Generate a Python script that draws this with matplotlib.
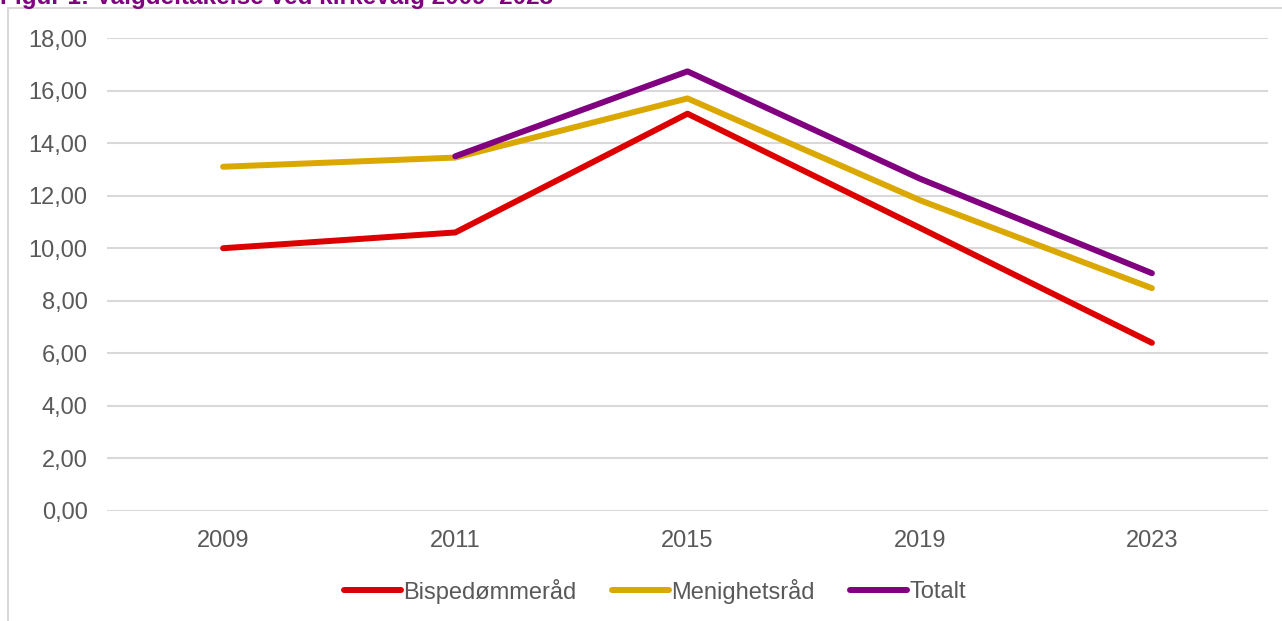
import matplotlib.pyplot as plt
from matplotlib.patches import Rectangle
from matplotlib.ticker import FuncFormatter

plt.rcParams['font.family'] = ['Liberation Sans', 'DejaVu Sans']

# data
years = ["2009", "2011", "2015", "2019", "2023"]
bispedommerad = [10.0, 10.6, 15.12, 10.78, 6.4]
menighetsrad = [13.1, 13.45, 15.7, 11.83, 8.48]
totalt = [None, 13.5, 16.73, 12.65, 9.05]

fig = plt.figure(figsize=(12.82, 6.21), dpi=100)
ax = fig.add_axes([107 / 1282, 1 - 511 / 621, (1268 - 107) / 1282, (511 - 38) / 621])

x = list(range(len(years)))
tot_x = [i for i, v in zip(x, totalt) if v is not None]
tot_y = [v for v in totalt if v is not None]

ax.plot(x, bispedommerad, color="#DD0000", lw=4.3, solid_capstyle="round", label="Bispedømmeråd")
ax.plot(x, menighetsrad, color="#DAA800", lw=4.3, solid_capstyle="round", label="Menighetsråd")
ax.plot(tot_x, tot_y, color="#800080", lw=4.3, solid_capstyle="round", label="Totalt")

ax.set_xlim(-0.5, len(years) - 0.5)
ax.set_ylim(0, 18)
ax.set_yticks(range(0, 19, 2))
ax.yaxis.set_major_formatter(FuncFormatter(lambda v, p: f"{v:.2f}".replace(".", ",")))
ax.set_xticks(x)
ax.set_xticklabels(years)
ax.grid(axis="y", color="#D9D9D9", lw=1.5)
ax.set_axisbelow(True)
for s in ax.spines.values():
    s.set_visible(False)
ax.tick_params(length=0, labelsize=17, colors="#595959")
ax.tick_params(axis="y", pad=14)
ax.tick_params(axis="x", pad=14)

leg = fig.legend(loc="center", bbox_to_anchor=(655 / 1282, 1 - 591 / 621), ncol=3, frameon=False,
                 fontsize=17, handlelength=2.4, handletextpad=0.1, columnspacing=1.5)
for t in leg.get_texts():
    t.set_color("#595959")

# chart frame (partly outside the crop)
fig.patches.append(Rectangle((8 / 1282, -0.1), 1.2, 1 - 8 / 621 + 0.1, transform=fig.transFigure,
                             fill=False, edgecolor="#D9D9D9", lw=1.5))

fig.text(0, 1 - 4 / 621, "Figur 1: Valgdeltakelse ved kirkevalg 2009–2023", color="#800080",
         fontsize=17.5, fontweight="bold", va="baseline", ha="left")

fig.savefig("out.png", dpi=100)
